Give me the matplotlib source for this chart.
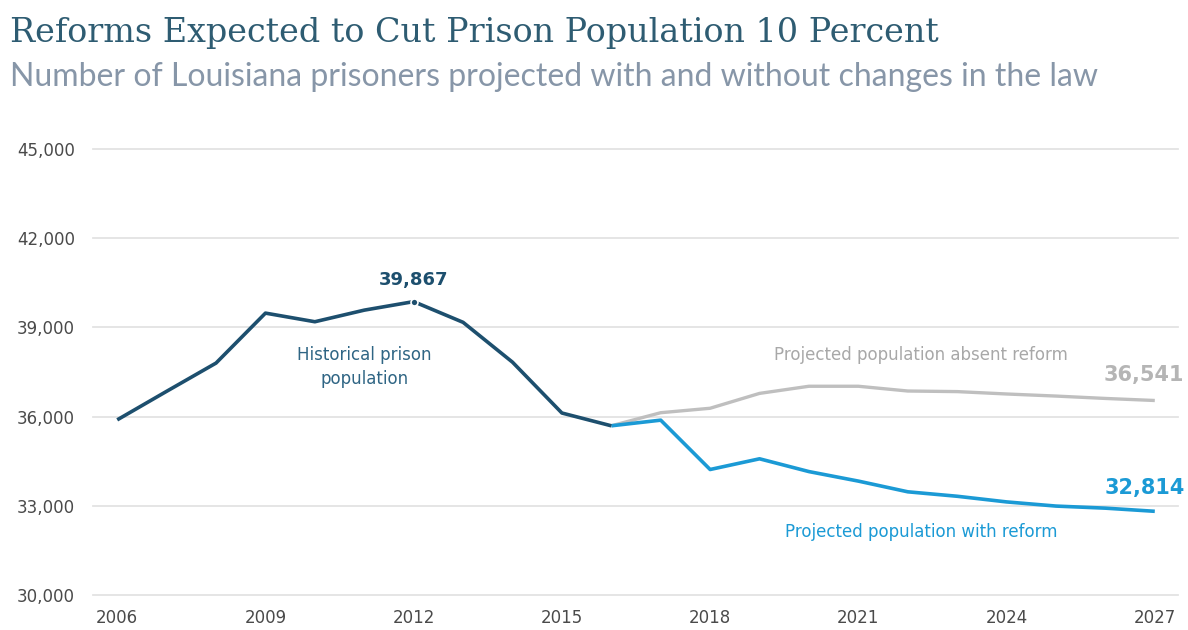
import matplotlib.pyplot as plt

# # DATA

hist_years = [2006, 2007, 2008, 2009, 2010, 2011, 2012, 2013, 2014, 2015, 2016]
hist_pop = [35890, 36850, 37800, 39480, 39190, 39580, 39867, 39170, 37830, 36120, 35690]

proj_years = [2016, 2017, 2018, 2019, 2020, 2021, 2022, 2023, 2024, 2025, 2026, 2027]
absent_pop = [35690, 36130, 36280, 36780, 37020, 37020, 36860, 36840, 36760, 36690, 36610, 36541]
reform_pop = [35690, 35880, 34220, 34580, 34150, 33830, 33470, 33320, 33130, 32990, 32920, 32814]

x_ticks = [2006, 2009, 2012, 2015, 2018, 2021, 2024, 2027]
y_ticks = [30000, 33000, 36000, 39000, 42000, 45000]

# # COLOURS

dark = "#1d4f6e"
blue = "#1b9ad5"
gray = "#bfbfbf"
grid = "#e3e3e3"

plt.rcParams['font.family'] = ['DejaVu Sans']

fig = plt.figure(figsize=(11.88, 6.30), dpi=100)
ax = fig.add_axes([0.0783, 0.0556, 0.9133, 0.7079])

for y in y_ticks:
    ax.axhline(y, color=grid, lw=1.3, zorder=0, clip_on=False)

ax.plot(proj_years, absent_pop, color=gray, lw=2.4, solid_capstyle='butt', zorder=2)
ax.plot(proj_years, reform_pop, color=blue, lw=2.6, solid_capstyle='butt', zorder=3)
ax.plot(hist_years, hist_pop, color=dark, lw=2.6, solid_capstyle='butt', zorder=4)

# peak marker
peak = hist_pop.index(max(hist_pop))
ax.plot(hist_years[peak], hist_pop[peak], 'o', color=dark, ms=5,
        markeredgecolor='white', markeredgewidth=1.2, zorder=5)

ax.set_xlim(2005.51, 2027.47)
ax.set_ylim(30000, 45000)
ax.set_xticks(x_ticks)
ax.set_yticks(y_ticks)
ax.set_yticklabels([f"{v:,}" for v in y_ticks])
ax.tick_params(length=0, labelsize=12, colors="#4a4a4a")
ax.tick_params(axis='y', pad=13)
ax.tick_params(axis='x', pad=10)
for s in ax.spines.values():
    s.set_visible(False)

# # LABELS

ax.annotate(f"{hist_pop[peak]:,}", (hist_years[peak], hist_pop[peak]),
            xytext=(0, 9), textcoords='offset points', ha='center', va='bottom',
            fontsize=13, fontweight='bold', color=dark)
ax.text(2011.0, 37670, "Historical prison\npopulation", ha='center', va='center',
        fontsize=12, color="#2f6584", linespacing=1.45)
ax.text(2022.27, 38070, "Projected population absent reform", ha='center', va='center',
        fontsize=12, color="#a8a8a8")
ax.text(2022.27, 32120, "Projected population with reform", ha='center', va='center',
        fontsize=12, color=blue)
ax.text(2027.6, absent_pop[-1] + 860, f"{absent_pop[-1]:,}", ha='right', va='center',
        fontsize=15, fontweight='bold', color="#b5b5b5")
ax.text(2027.6, reform_pop[-1] + 790, f"{reform_pop[-1]:,}", ha='right', va='center',
        fontsize=15, fontweight='bold', color=blue)

# # TITLES

fig.text(0.008, 0.948, "Reforms Expected to Cut Prison Population 10 Percent",
         ha='left', va='center', fontsize=24, color="#2e5c72",
         family=['DejaVu Serif'])
fig.text(0.008, 0.878, "Number of Louisiana prisoners projected with and without changes in the law",
         ha='left', va='center', fontsize=23, color="#8796a8",
         family=['Lato', 'DejaVu Sans'])

fig.savefig("out.png", dpi=100)
